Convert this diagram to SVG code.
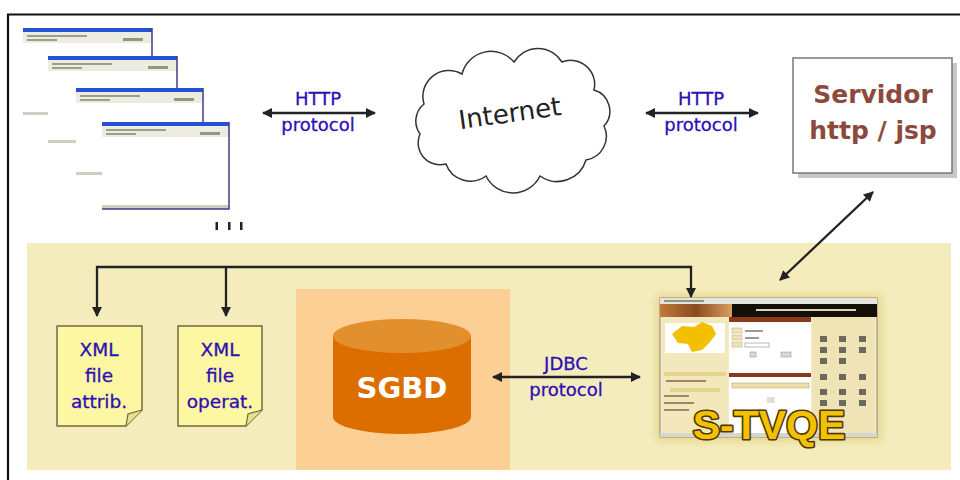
<svg xmlns="http://www.w3.org/2000/svg" width="960" height="480" viewBox="0 0 960 480">
  <defs>
    <style>
      .lbl { font-family: "DejaVu Sans", "Liberation Sans", sans-serif; font-size: 18px; fill: #2d0fb4; text-anchor: middle; stroke: #2d0fb4; stroke-width: 0.3; }
      .xml { font-family: "DejaVu Sans", "Liberation Sans", sans-serif; font-size: 18.5px; fill: #2d0fb4; text-anchor: middle; stroke: #2d0fb4; stroke-width: 0.3; }
      .link { stroke: #222; stroke-width: 2.3; fill: none; }
      .note { fill: #fdf6a2; stroke: #6e6b3e; stroke-width: 1.5; }
      .win-title { fill: #2451d6; }
      .win-bar { fill: #eeece0; }
      .win-body { fill: #ffffff; }
      .win-edge { stroke: #3a4080; stroke-width: 1.5; fill: none; }
      .icon { fill: #6c6a5e; }
    </style>
    <marker id="arrow" viewBox="0 0 10 10" refX="9" refY="5" markerWidth="11" markerHeight="10" markerUnits="userSpaceOnUse" orient="auto-start-reverse">
      <path d="M0,0 L10,5 L0,10 Z" fill="#222"/>
    </marker>
    <filter id="glow" x="-20%" y="-20%" width="140%" height="140%">
      <feGaussianBlur stdDeviation="4"/>
    </filter>
    <linearGradient id="hdr" x1="0" y1="0" x2="1" y2="0">
      <stop offset="0" stop-color="#c07a3a"/>
      <stop offset="0.5" stop-color="#8a4a20"/>
      <stop offset="1" stop-color="#d8a060"/>
    </linearGradient>
  </defs>

  <!-- page background and frame -->
  <rect x="0" y="0" width="960" height="480" fill="#ffffff"/>
  <path d="M8,480 V14.5 H960" fill="none" stroke="#111" stroke-width="2.2"/>

  <!-- lower panel -->
  <rect x="27" y="243" width="924" height="227" fill="#f5ecbe"/>
  <rect x="296" y="289" width="214" height="181" fill="#fccf94"/>

  <!-- client browser windows -->
  <g id="clients">
    <g id="browser-1" transform="translate(23,28)">
      <rect class="win-body" x="0" y="0" width="129" height="87"/>
      <rect class="win-title" x="0" y="0" width="129" height="4"/>
      <rect class="win-bar" x="0" y="4" width="129" height="11"/>
      <rect x="4" y="7" width="60" height="2" fill="#9aa08a"/>
      <rect x="4" y="11" width="30" height="2" fill="#9aa08a"/>
      <rect x="100" y="10" width="20" height="3" fill="#8c9a80"/>
      <rect x="0" y="84" width="129" height="3" fill="#cfccc0"/>
      <path class="win-edge" d="M129,0 V87"/>
    </g>
    <g id="browser-2" transform="translate(48,56)">
      <rect class="win-body" x="0" y="0" width="129" height="87"/>
      <rect class="win-title" x="0" y="0" width="129" height="4"/>
      <rect class="win-bar" x="0" y="4" width="129" height="11"/>
      <rect x="4" y="7" width="60" height="2" fill="#9aa08a"/>
      <rect x="4" y="11" width="30" height="2" fill="#9aa08a"/>
      <rect x="100" y="10" width="20" height="3" fill="#8c9a80"/>
      <rect x="0" y="84" width="129" height="3" fill="#cfccc0"/>
      <path class="win-edge" d="M129,0 V87"/>
    </g>
    <g id="browser-3" transform="translate(76,88)">
      <rect class="win-body" x="0" y="0" width="127" height="87"/>
      <rect class="win-title" x="0" y="0" width="127" height="4"/>
      <rect class="win-bar" x="0" y="4" width="127" height="11"/>
      <rect x="4" y="7" width="60" height="2" fill="#9aa08a"/>
      <rect x="4" y="11" width="30" height="2" fill="#9aa08a"/>
      <rect x="98" y="10" width="20" height="3" fill="#8c9a80"/>
      <rect x="0" y="84" width="127" height="3" fill="#cfccc0"/>
      <path class="win-edge" d="M127,0 V87"/>
    </g>
    <g id="browser-4" transform="translate(102,122)">
      <rect class="win-body" x="0" y="0" width="127" height="87"/>
      <rect class="win-title" x="0" y="0" width="127" height="4"/>
      <rect class="win-bar" x="0" y="4" width="127" height="11"/>
      <rect x="4" y="7" width="60" height="2" fill="#9aa08a"/>
      <rect x="4" y="11" width="30" height="2" fill="#9aa08a"/>
      <rect x="98" y="10" width="20" height="3" fill="#8c9a80"/>
      <rect x="0" y="83" width="127" height="4" fill="#cfccc0"/>
      <path class="win-edge" d="M127,0 V87 H0"/>
    </g>
    <g id="more-clients" fill="#222">
      <rect x="215.5" y="222" width="2.5" height="8"/>
      <rect x="228" y="222" width="2.5" height="8"/>
      <rect x="240" y="222" width="2.5" height="8"/>
    </g>
  </g>

  <!-- internet cloud -->
  <g id="internet">
    <path d="M420,134 A22,22 0 0 1 424,104 A26,26 0 0 1 462,74 A30,30 0 0 1 514,62 A28,28 0 0 1 562,62 A24,24 0 0 1 594,90 A22,22 0 0 1 604,126 A24,24 0 0 1 586,160 A30,30 0 0 1 540,176 A30,30 0 0 1 486,176 A26,26 0 0 1 446,164 A22,22 0 0 1 420,134 Z" fill="#ffffff" stroke="#333" stroke-width="1.5"/>
    <text x="511" y="122" transform="rotate(-8 511 122)" font-family="DejaVu Sans, Verdana, sans-serif" font-size="26" fill="#222" text-anchor="middle">Internet</text>
  </g>

  <!-- web server -->
  <g id="servidor">
    <rect x="798" y="63" width="159" height="115" fill="#c8c8c8"/>
    <rect x="793" y="58" width="159" height="115" fill="#ffffff" stroke="#777" stroke-width="1.5"/>
    <text x="873" y="103" font-family="DejaVu Sans, Verdana, sans-serif" font-weight="bold" font-size="25" fill="#8c4a3c" text-anchor="middle">Servidor</text>
    <text x="873" y="139" font-family="DejaVu Sans, Verdana, sans-serif" font-weight="bold" font-size="25" fill="#8c4a3c" text-anchor="middle">http / jsp</text>
  </g>

  <!-- XML files -->
  <g id="xml-attrib">
    <path class="note" d="M57,326 H142 V410 L126,426 H57 Z"/>
    <path d="M142,410 L128,414 L126,426" fill="#e8e090" stroke="#6e6b3e" stroke-width="1.2"/>
    <text class="xml" x="99" y="356">XML</text>
    <text class="xml" x="99" y="382">file</text>
    <text class="xml" x="99" y="408">attrib.</text>
  </g>
  <g id="xml-operat">
    <path class="note" d="M178,326 H262 V410 L246,426 H178 Z"/>
    <path d="M262,410 L248,414 L246,426" fill="#e8e090" stroke="#6e6b3e" stroke-width="1.2"/>
    <text class="xml" x="220" y="356">XML</text>
    <text class="xml" x="220" y="382">file</text>
    <text class="xml" x="220" y="408">operat.</text>
  </g>

  <!-- database -->
  <g id="sgbd">
    <path d="M333,336 V417 A69,17 0 0 0 471,417 V336 Z" fill="#dc6e00"/>
    <ellipse cx="402" cy="336" rx="69" ry="17" fill="#e2902e"/>
    <text x="402" y="398" font-family="DejaVu Sans, Verdana, sans-serif" font-weight="bold" font-size="29" fill="#ffffff" text-anchor="middle">SGBD</text>
  </g>

  <!-- S-TVQE application -->
  <g id="s-tvqe">
    <rect x="656" y="294" width="226" height="148" fill="#e8d890" filter="url(#glow)"/>
    <rect x="660" y="298" width="217" height="139" fill="#f4ecc8" stroke="#8a8a80" stroke-width="1"/>
    <rect x="660" y="298" width="217" height="6" fill="#e6e4dc"/>
    <rect x="664" y="300" width="40" height="2" fill="#8a9a7a"/>
    <rect x="660" y="304" width="72" height="13" fill="url(#hdr)"/>
    <rect x="732" y="304" width="145" height="13" fill="#141008"/>
    <rect x="756" y="309" width="100" height="2" fill="#d8d0c0"/>
    <!-- left column -->
    <rect x="662" y="317" width="66" height="118" fill="#f3e8bc"/>
    <rect x="665" y="323" width="60" height="30" fill="#ffffff"/>
    <path d="M672,334 L682,326 L694,327 L702,322 L712,326 L716,334 L710,342 L702,350 L692,352 L688,344 L678,343 Z" fill="#f2c000"/>
    <rect x="664" y="372" width="62" height="4" fill="#e6d48e"/>
    <rect x="666" y="380" width="40" height="2" fill="#9a8a6a"/>
    <rect x="670" y="388" width="50" height="4" fill="#e6d48e"/>
    <rect x="664" y="395" width="25" height="2" fill="#9a8a6a"/>
    <rect x="664" y="402" width="30" height="2" fill="#9a8a6a"/>
    <rect x="664" y="409" width="25" height="2" fill="#9a8a6a"/>
    <!-- middle column -->
    <rect x="729" y="317" width="82" height="118" fill="#ffffff"/>
    <rect x="729" y="317" width="82" height="5" fill="#8a3a1c"/>
    <rect x="732" y="328" width="10" height="5" fill="#f0e4b0" stroke="#b8a878" stroke-width="0.5"/>
    <rect x="732" y="335" width="10" height="5" fill="#f0e4b0" stroke="#b8a878" stroke-width="0.5"/>
    <rect x="732" y="342" width="10" height="5" fill="#f0e4b0" stroke="#b8a878" stroke-width="0.5"/>
    <rect x="745" y="330" width="18" height="2" fill="#9a9a9a"/>
    <rect x="745" y="337" width="14" height="2" fill="#9a9a9a"/>
    <rect x="745" y="343" width="24" height="4" fill="#ffffff" stroke="#8a8a8a" stroke-width="0.6"/>
    <rect x="750" y="352" width="6" height="5" fill="#d8d8d0" stroke="#8a8a8a" stroke-width="0.5"/>
    <rect x="781" y="352" width="10" height="5" fill="#d8d8d0" stroke="#8a8a8a" stroke-width="0.5"/>
    <rect x="729" y="373" width="82" height="4" fill="#8a3a1c"/>
    <rect x="732" y="383" width="77" height="5" fill="#f0e0a8" stroke="#a89868" stroke-width="0.5"/>
    <rect x="767" y="397" width="8" height="6" fill="#e0e0d8"/>
    <!-- right column -->
    <rect x="812" y="317" width="63" height="118" fill="#f0e4b6"/>
    <g class="icon">
      <rect x="820" y="336" width="7" height="6"/><rect x="839" y="336" width="7" height="6"/><rect x="859" y="336" width="7" height="6"/>
      <rect x="820" y="347" width="7" height="6"/><rect x="839" y="347" width="7" height="6"/><rect x="859" y="347" width="7" height="6"/>
      <rect x="820" y="358" width="7" height="6"/><rect x="839" y="358" width="7" height="6"/>
      <rect x="820" y="374" width="7" height="6"/><rect x="839" y="374" width="7" height="6"/><rect x="859" y="374" width="7" height="6"/>
      <rect x="820" y="389" width="7" height="6"/><rect x="839" y="389" width="7" height="6"/><rect x="859" y="389" width="7" height="6"/>
      <rect x="820" y="400" width="7" height="6"/><rect x="839" y="400" width="7" height="6"/><rect x="859" y="400" width="7" height="6"/>
    </g>
    <rect x="660" y="433" width="217" height="4" fill="#d8d6cc"/>
    <text x="769" y="439" font-family="Liberation Sans, Arial, sans-serif" font-weight="bold" font-size="41" fill="#f2c200" stroke="#4e3600" stroke-width="3.2" stroke-linejoin="round" paint-order="stroke" text-anchor="middle">S-TVQE</text>
  </g>

  <!-- connectors -->
  <g id="connectors">
    <line class="link" x1="263" y1="113" x2="375" y2="113" marker-start="url(#arrow)" marker-end="url(#arrow)"/>
    <line class="link" x1="646" y1="113" x2="758" y2="113" marker-start="url(#arrow)" marker-end="url(#arrow)"/>
    <line class="link" x1="780" y1="280" x2="873" y2="192" marker-start="url(#arrow)" marker-end="url(#arrow)"/>
    <line class="link" x1="493" y1="377" x2="640" y2="377" marker-start="url(#arrow)" marker-end="url(#arrow)"/>
    <path class="link" d="M691,297 V267 H97 V316" marker-start="url(#arrow)" marker-end="url(#arrow)"/>
    <path class="link" d="M226,267 V316" marker-end="url(#arrow)"/>
  </g>

  <!-- connector labels -->
  <g id="labels">
    <text class="lbl" x="318" y="105">HTTP</text>
    <text class="lbl" x="318" y="131">protocol</text>
    <text class="lbl" x="701" y="105">HTTP</text>
    <text class="lbl" x="701" y="131">protocol</text>
    <text class="lbl" x="566" y="370">JDBC</text>
    <text class="lbl" x="566" y="396">protocol</text>
  </g>
</svg>
